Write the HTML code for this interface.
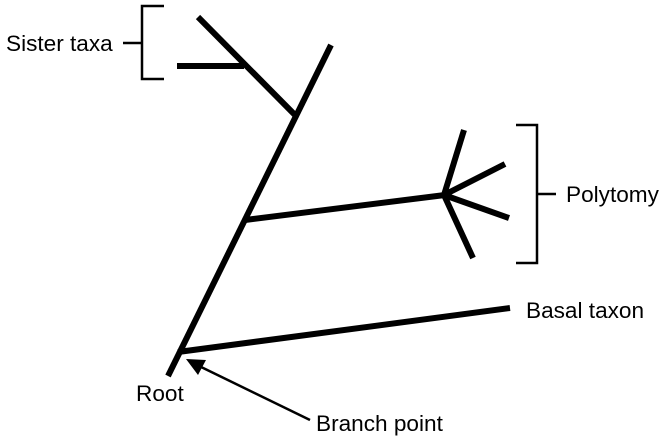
<!DOCTYPE html>
<html><head><style>
body{margin:0;background:#fff;}
svg{display:block;}
text{font-family:"Liberation Sans",sans-serif;font-size:22.6px;fill:#000;}
</style></head><body>
<svg width="668" height="441" viewBox="0 0 668 441">
<g stroke="#000" stroke-width="6" stroke-linecap="butt" fill="none">
<line x1="168" y1="376" x2="331" y2="45"/>
<line x1="296" y1="116" x2="198" y2="17"/>
<line x1="244" y1="66" x2="177" y2="66"/>
<line x1="245" y1="220" x2="445" y2="195"/>
<line x1="444" y1="195" x2="464" y2="130"/>
<line x1="444" y1="195" x2="505" y2="164"/>
<line x1="444" y1="195" x2="509" y2="218"/>
<line x1="444" y1="195" x2="473" y2="258"/>
<line x1="178" y1="352" x2="510" y2="308"/>
</g>
<g stroke="#000" stroke-width="2.5" fill="none">
<polyline points="164,6 142,6 142,79 164,79"/>
<line x1="123" y1="43" x2="142" y2="43"/>
<polyline points="516,125 537,125 537,263 516,263"/>
<line x1="537" y1="194" x2="556" y2="194"/>
<line x1="310" y1="420" x2="197" y2="365"/>
</g>
<polygon points="186,359 206,360 198,375" fill="#000"/>
<text x="6" y="51">Sister taxa</text>
<text x="566" y="202">Polytomy</text>
<text x="526" y="318">Basal taxon</text>
<text x="136" y="401">Root</text>
<text x="316" y="431">Branch point</text>
</svg>
</body></html>
